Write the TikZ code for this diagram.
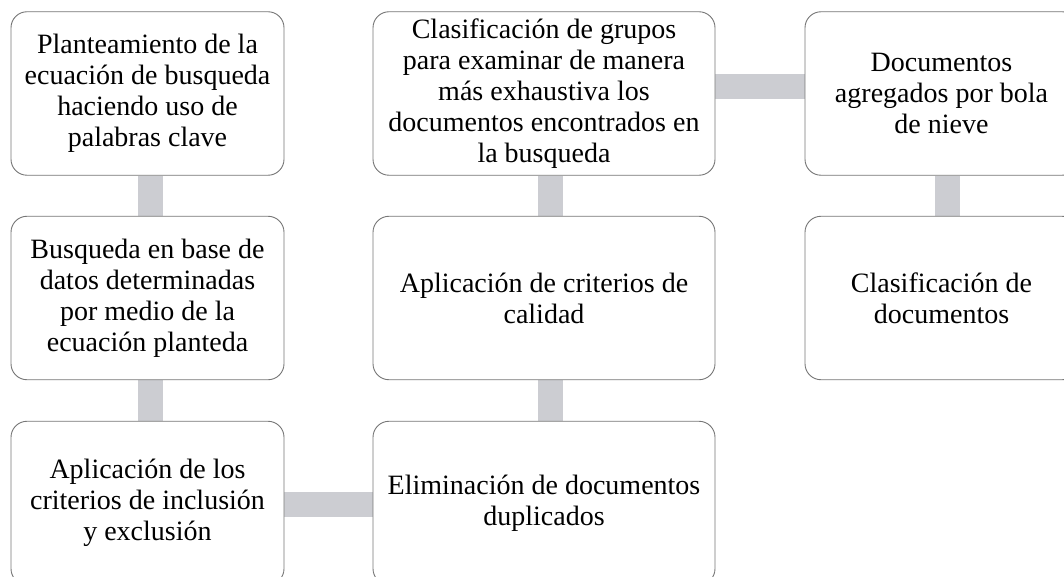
\documentclass[tikz,border=0pt]{standalone}
\usepackage{fontspec}
\setmainfont{Liberation Serif}
\usetikzlibrary{backgrounds}
\definecolor{boxline}{RGB}{118,118,118}
\definecolor{barfill}{RGB}{204,205,210}

\begin{document}
\begin{tikzpicture}[x=1pt, y=-1pt,
    stepbox/.style={draw=boxline, line width=0.9pt, fill=white, rounded corners=16pt,
        align=center, inner sep=0pt, minimum height=163.5pt,
        font=\fontsize{28}{31}\selectfont},
    narrowbox/.style={stepbox, minimum width=273pt},
    widebox/.style={stepbox, minimum width=342pt},
    bar/.style={barfill, line width=25pt}]
    \useasboundingbox (0,0) rectangle (1064,577);
    \clip (0,0) rectangle (1064,577);
    % Left column
    \node[narrowbox] (plant) at (147.5,93.5) {Planteamiento de la\\ecuación de busqueda\\haciendo uso de\\palabras clave};
    \node[narrowbox] (busq) at (147.5,298) {Busqueda en base de\\datos determinadas\\por medio de la\\ecuación planteda};
    \node[narrowbox] (incl) at (147.5,503) {Aplicación de los\\criterios de inclusión\\y exclusión};
    % Middle column
    \node[widebox] (grupos) at (544,93.5) {Clasificación de grupos\\para examinar de manera\\más exhaustiva los\\documentos encontrados en\\la busqueda};
    \node[widebox] (calidad) at (544,298) {Aplicación de criterios de\\calidad};
    \node[widebox] (dupl) at (544,503) {Eliminación de documentos\\duplicados};
    % Right column
    \node[narrowbox] (nieve) at (941.5,93.5) {Documentos\\agregados por bola\\de nieve};
    \node[narrowbox] (clasif) at (941.5,298) {Clasificación de\\documentos};
    % Connecting bars
    \begin{scope}[on background layer]
        \draw[bar] ([xshift=3pt]plant.south) -- ([xshift=3pt]busq.north);
        \draw[bar] ([xshift=3pt]busq.south) -- ([xshift=3pt]incl.north);
        \draw[bar] ([yshift=-1.5pt]incl.east) -- ([yshift=-1.5pt]dupl.west);
        \draw[bar] ([xshift=6pt]dupl.north) -- ([xshift=6pt]calidad.south);
        \draw[bar] ([xshift=6pt]calidad.north) -- ([xshift=6pt]grupos.south);
        \draw[bar] ([yshift=7pt]grupos.east) -- ([yshift=7pt]nieve.west);
        \draw[bar] ([xshift=6pt]nieve.south) -- ([xshift=6pt]clasif.north);
    \end{scope}
\end{tikzpicture}
\end{document}
